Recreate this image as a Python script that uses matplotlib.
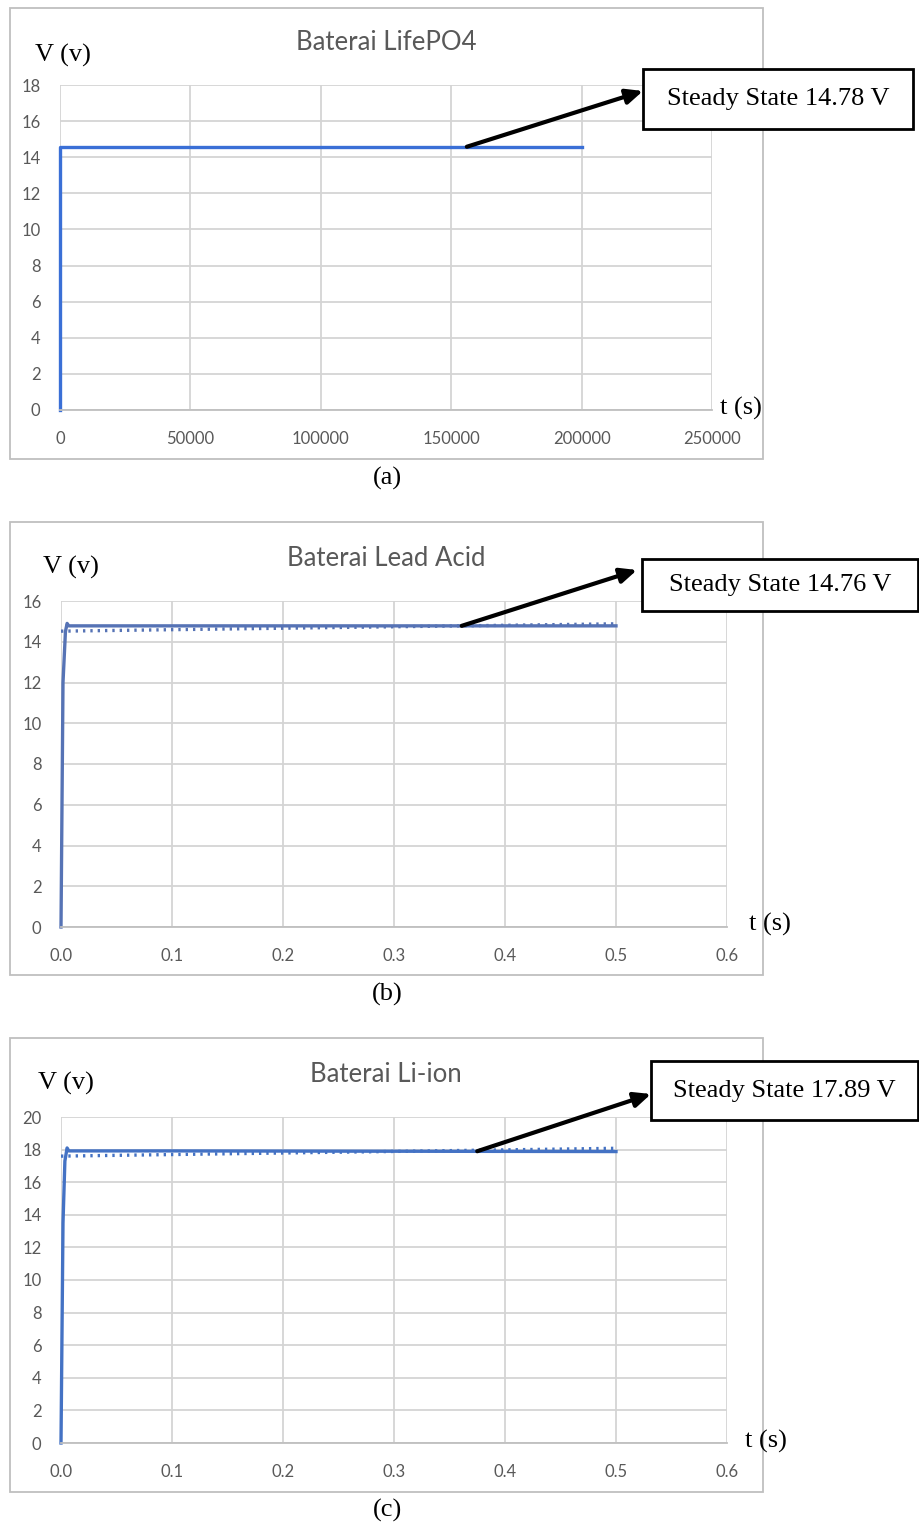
import matplotlib
matplotlib.use("Agg")
import matplotlib.pyplot as plt
from matplotlib.patches import Rectangle

W, H = 919, 1524

# ---- data ----
# (a) Baterai LifePO4
t_a = [0, 0, 2000, 200000]
v_a = [0, 14.58, 14.58, 14.58]
# (b) Baterai Lead Acid
t_b = [0, 0.0018, 0.004, 0.0055, 0.007, 0.1, 0.3, 0.5]
v_b = [0, 12.0, 14.5, 14.9, 14.78, 14.78, 14.78, 14.78]
t_b_dot = [0, 0.5]
v_b_dot = [14.52, 14.88]
# (c) Baterai Li-ion
t_c = [0, 0.0018, 0.0035, 0.0055, 0.007, 0.1, 0.3, 0.5]
v_c = [0, 13.5, 17.3, 18.1, 17.92, 17.92, 17.9, 17.88]
t_c_dot = [0, 0.5]
v_c_dot = [17.6, 18.08]

titles = ["Baterai LifePO4", "Baterai Lead Acid", "Baterai Li-ion"]
captions = ["(a)", "(b)", "(c)"]
steady = ["Steady State 14.78 V", "Steady State 14.76 V", "Steady State 17.89 V"]

xticks_a = [0, 50000, 100000, 150000, 200000, 250000]
yticks_a = [0, 2, 4, 6, 8, 10, 12, 14, 16, 18]
xticks_bc = [0.0, 0.1, 0.2, 0.3, 0.4, 0.5, 0.6]
yticks_b = [0, 2, 4, 6, 8, 10, 12, 14, 16]
yticks_c = [0, 2, 4, 6, 8, 10, 12, 14, 16, 18, 20]

SANS = ["Lato", "DejaVu Sans"]
SERIF = ["Liberation Serif", "DejaVu Serif"]
GRAY = "#595959"
GRID = "#d4d4d4"


def fx(x):
    return x / W


def fy(y):
    return 1 - y / H


fig = plt.figure(figsize=(W / 100, H / 100), dpi=100)

# layout of each panel in pixels
panels = [
    dict(frame=(10, 8, 763, 459), plot=(60, 85, 712, 410), title_y=43,
         vlab=(35, 55), tlab=(720, 408), cap_y=478,
         box=(643, 69, 913, 129), arrow_from=(156000, 14.58), arrow_to=(643, 91)),
    dict(frame=(10, 522, 763, 975), plot=(61, 601, 727, 927), title_y=558,
         vlab=(43, 567), tlab=(749, 924), cap_y=994,
         box=(642, 559, 918, 611), arrow_from=(0.361, 14.78), arrow_to=(637, 570)),
    dict(frame=(10, 1038, 763, 1492), plot=(61, 1117, 727, 1443), title_y=1075,
         vlab=(38, 1083), tlab=(745, 1441), cap_y=1510,
         box=(651, 1061, 918, 1120), arrow_from=(0.375, 17.9), arrow_to=(651, 1094)),
]

series = [
    (t_a, v_a, None, None, "#3a6fd6", xticks_a, yticks_a),
    (t_b, v_b, t_b_dot, v_b_dot, "#5673b5", xticks_bc, yticks_b),
    (t_c, v_c, t_c_dot, v_c_dot, "#4472c4", xticks_bc, yticks_c),
]

for i, p in enumerate(panels):
    t, v, td, vd, col, xt, yt = series[i]
    x0, y0, x1, y1 = p["frame"]
    fig.patches.append(Rectangle((fx(x0), fy(y1)), (x1 - x0) / W, (y1 - y0) / H,
                                 transform=fig.transFigure, fill=False,
                                 edgecolor="#bfbfbf", linewidth=1.3))
    l, tp, r, b = p["plot"]
    ax = fig.add_axes([fx(l), fy(b), (r - l) / W, (b - tp) / H])
    ax.set_facecolor("none")
    ax.set_xlim(xt[0], xt[-1])
    ax.set_ylim(yt[0], yt[-1])
    ax.set_xticks(xt)
    ax.set_yticks(yt)
    if i == 0:
        ax.set_xticklabels([str(x) for x in xt])
    else:
        ax.set_xticklabels(["%.1f" % x for x in xt])
    for s in ["top", "right", "left"]:
        ax.spines[s].set_visible(False)
    ax.spines["bottom"].set_color("#bfbfbf")
    ax.spines["bottom"].set_linewidth(1.3)
    ax.grid(True, color=GRID, linewidth=1.3)
    ax.set_axisbelow(True)
    ax.tick_params(length=0, labelcolor=GRAY, labelsize=12)
    ax.tick_params(axis="x", pad=15)
    ax.tick_params(axis="y", pad=14)
    for lab in ax.get_xticklabels() + ax.get_yticklabels():
        lab.set_family(SANS)

    if td is not None:
        ax.plot(td, vd, color=col, linewidth=2.4, linestyle=(0, (0.7, 1.5)),
                clip_on=False)
    ax.plot(t, v, color=col, linewidth=2.4, clip_on=False)

    ax.annotate("", xy=(fx(p["arrow_to"][0]), fy(p["arrow_to"][1])),
                xycoords="figure fraction", xytext=p["arrow_from"],
                textcoords="data",
                arrowprops=dict(arrowstyle="-|>,head_length=1.0,head_width=0.45",
                                color="black", linewidth=3, shrinkA=0, shrinkB=0),
                annotation_clip=False)

    bx0, by0, bx1, by1 = p["box"]
    fig.patches.append(Rectangle((fx(bx0), fy(by1)), (bx1 - bx0) / W, (by1 - by0) / H,
                                 transform=fig.transFigure, facecolor="white",
                                 edgecolor="black", linewidth=2, zorder=5))
    fig.text(fx((bx0 + bx1) / 2), fy((by0 + by1) / 2), steady[i], family=SERIF,
             fontsize=19, ha="center", va="center", zorder=6)

    fig.text(fx(386), fy(p["title_y"]), titles[i], family=SANS, fontsize=18.5,
             color=GRAY, ha="center", va="center")
    fig.text(fx(p["vlab"][0]), fy(p["vlab"][1]), "V (v)", family=SERIF,
             fontsize=19, ha="left", va="center")
    fig.text(fx(p["tlab"][0]), fy(p["tlab"][1]), "t (s)", family=SERIF,
             fontsize=19, ha="left", va="center")
    fig.text(fx(387), fy(p["cap_y"]), captions[i], family=SERIF,
             fontsize=19, ha="center", va="center")

fig.savefig("out.png", dpi=100, facecolor="white")
